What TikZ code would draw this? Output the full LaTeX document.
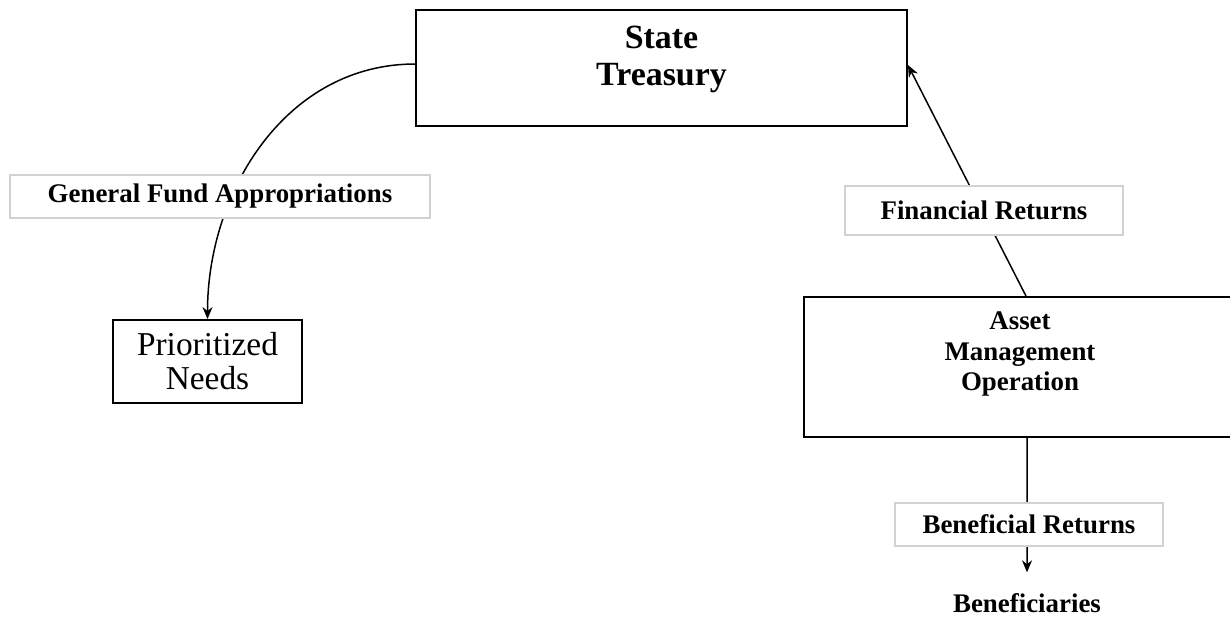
\documentclass[tikz,border=0pt]{standalone}
\usepackage{fontspec}
\setmainfont{Liberation Serif}
\usepackage{tikz}
\usetikzlibrary{arrows.meta, positioning, calc}

\begin{document}
\begin{tikzpicture}[
    x=0.02cm, y=-0.02cm,
    box/.style={rectangle, draw, line width=1.1pt, align=center},
    tag/.style={rectangle, draw=gray!35, line width=0.9pt, fill=white, align=center, minimum height=0.86cm, font=\fontsize{15.3}{17}\selectfont\bfseries},
    arrow/.style={-{Stealth[length=0.24cm, width=0.2cm]}, line width=0.85pt}
]
\useasboundingbox (0,0) rectangle (1230,616);

% Boxes
\node[box, minimum width=9.82cm, minimum height=2.32cm, text depth=13.8pt, font=\fontsize{19.3}{21.5}\selectfont\bfseries] (treasury) at (661.5,68) {State\\Treasury};
\node[box, minimum width=3.78cm, minimum height=1.66cm, font=\fontsize{19}{19.3}\selectfont] (needs) at (207.5,361.5) {Prioritized\\Needs};
\node[box, minimum width=8.64cm, minimum height=2.8cm, text depth=18pt, font=\fontsize{15.3}{17.3}\selectfont\bfseries] (asset) at (1020,367) {Asset\\Management\\Operation};
\node[inner sep=1pt, font=\fontsize{15.3}{17}\selectfont\bfseries] (benef) at (1027,603) {Beneficiaries};

% Arrows
\draw[arrow] ([yshift=0.08cm]treasury.west) to[out=180, in=90] (needs.north);
\draw[arrow] ([xshift=0.12cm]asset.north) -- ([yshift=0.06cm]treasury.east);
\draw[arrow, shorten >=0.38cm] ([xshift=0.14cm]asset.south) -- (benef.north);

% Labels
\node[tag, minimum width=8.4cm] (fund) at (220,196.5) {General Fund Appropriations};
\node[tag, minimum width=5.56cm, minimum height=0.98cm] (finret) at (984,210.5) {Financial Returns};
\node[tag, minimum width=5.36cm] (benret) at (1029,524.5) {Beneficial Returns};

\end{tikzpicture}
\end{document}
